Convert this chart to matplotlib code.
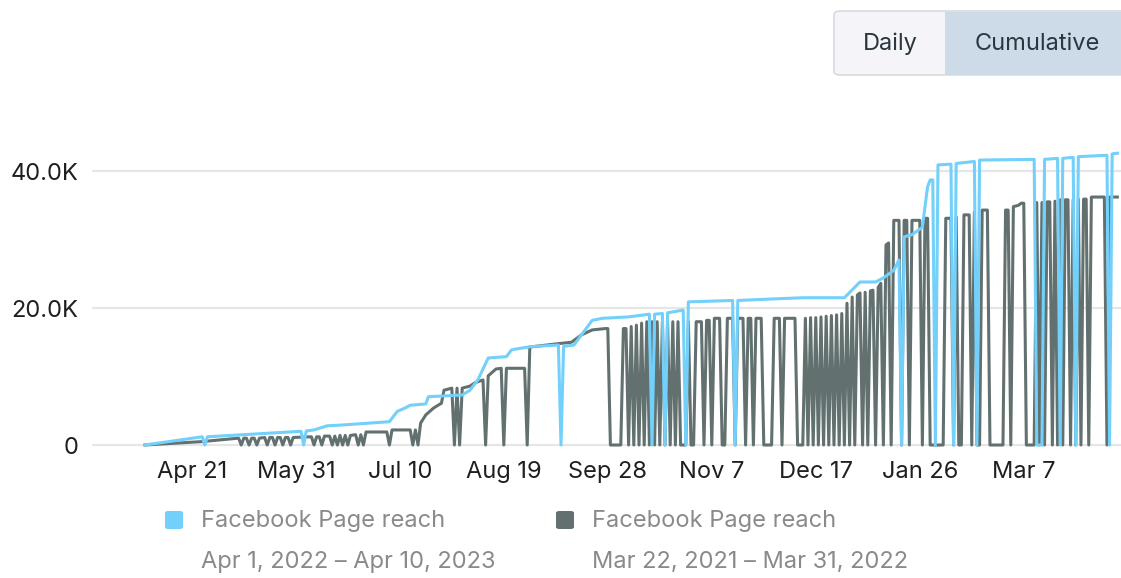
import matplotlib
matplotlib.use("Agg")
import matplotlib.pyplot as plt
from matplotlib.patches import FancyBboxPatch, Rectangle
from matplotlib.ticker import FuncFormatter
from matplotlib.transforms import ScaledTranslation

# day 0 = Apr 1, 2022 (blue) / Mar 22, 2021 (gray); reach values in thousands
blue_pts = [
    (0, 0), (22, 1.2), (23, 0), (24, 1.2), (60, 2.0), (61, 0), (62, 2.05), (65, 2.2),
    (70, 2.8), (75, 2.9), (94, 3.4), (97, 4.9), (100, 5.4), (102, 5.8), (108, 6.0),
    (109, 7.05), (122, 7.3), (125, 8.0), (128, 9.5), (132, 12.7), (139, 12.9),
    (141, 13.9), (148, 14.35), (159, 14.6), (160, 0), (161, 14.4), (165, 14.6),
    (172, 18.2), (176, 18.5), (186, 18.7), (194, 19.1), (195, 0), (196, 19.1),
    (199, 19.2), (200, 0), (201, 19.3), (207, 19.7), (208, 0), (209, 20.9),
    (226, 21.1), (227, 0), (228, 21.1), (240, 21.3), (253, 21.5), (269, 21.5),
    (275, 23.8), (281, 23.8), (284, 24.4), (288, 25.5), (290, 27.0), (291, 0),
    (292, 30.4), (295, 30.7), (299, 31.8), (301, 37.7), (302, 38.7), (303, 38.7),
    (304, 0), (305, 40.9), (310, 41.0), (311, 0), (312, 41.1), (319, 41.4), (320, 0),
    (321, 41.6), (342, 41.7), (343, 0), (345, 0), (346, 41.7), (351, 41.85), (352, 0),
    (353, 41.85), (357, 42.0), (358, 0), (359, 42.1), (370, 42.3), (371, 0),
    (372, 42.5), (374, 42.6),
]

gray_pts = [
    (0, 0), (22, 0.5), (36, 1.0), (37, 0), (38, 1.0), (39, 1.0), (40, 0), (41, 1.0),
    (42, 1.0), (43, 0), (44, 1.0), (46, 1.1), (47, 0), (48, 1.1), (49, 1.1), (50, 0),
    (51, 1.1), (52, 1.1), (53, 0), (54, 1.1), (55, 1.1), (56, 0), (57, 1.1), (64, 1.2),
    (65, 0), (66, 1.2), (67, 1.2), (68, 0), (69, 1.3), (71, 1.3), (72, 0), (73, 1.3),
    (74, 0), (75, 1.4), (76, 0), (77, 1.4), (78, 0), (79, 1.4), (81, 1.5), (82, 0),
    (83, 1.5), (84, 0), (85, 1.9), (93, 1.9), (94, 0), (95, 2.2), (102, 2.2), (103, 0),
    (104, 2.2), (105, 0), (106, 3.2), (108, 4.4), (111, 5.4), (114, 6.1), (115, 8.0),
    (118, 8.3), (119, 0), (120, 8.3), (121, 0), (122, 8.3), (125, 8.6), (127, 9.1),
    (130, 9.5), (131, 0), (132, 10.1), (135, 11.1), (137, 11.2), (138, 0), (139, 11.2),
    (146, 11.2), (147, 0), (148, 14.3), (159, 14.8), (164, 15.0), (168, 16.1),
    (172, 16.8), (177, 17.0), (178, 17.0), (179, 0), (183, 0), (184, 17.0), (185, 17.0),
    (186, 0), (187, 17.3), (188, 0), (189, 17.5), (190, 0), (191, 17.8), (192, 0),
    (193, 18.0), (194, 0), (195, 18.0), (196, 0), (197, 18.0), (198, 0), (199, 18.0),
    (200, 0), (201, 18.0), (202, 0), (203, 18.0), (204, 0), (205, 18.0), (206, 0),
    (208, 0), (209, 18.0), (210, 0), (211, 0), (212, 18.0), (214, 18.0), (215, 0),
    (216, 18.2), (217, 18.2), (218, 0), (219, 18.5), (221, 18.5), (222, 0), (223, 0),
    (224, 18.5), (226, 18.5), (227, 0), (228, 18.5), (230, 18.5), (231, 0), (232, 18.5),
    (233, 18.5), (234, 0), (235, 18.5), (237, 18.5), (238, 0), (241, 0), (242, 18.5),
    (244, 18.5), (245, 0), (246, 18.5), (250, 18.5), (251, 0), (253, 0), (254, 18.5),
    (255, 0), (256, 18.6), (257, 0), (258, 18.6), (259, 0), (260, 18.7), (261, 0),
    (262, 18.8), (263, 0), (264, 18.9), (265, 0), (266, 19.0), (267, 0), (268, 19.2),
    (269, 0), (270, 20.7), (271, 0), (272, 21.6), (273, 0), (274, 21.9), (275, 22.2),
    (276, 0), (277, 22.3), (278, 0), (279, 22.5), (280, 22.6), (281, 0), (282, 23.0),
    (283, 23.6), (284, 0), (285, 29.2), (286, 29.5), (287, 0), (288, 32.8), (290, 32.8),
    (291, 0), (292, 32.8), (293, 32.8), (294, 0), (295, 32.8), (298, 32.8), (299, 0),
    (300, 33.1), (301, 33.1), (302, 0), (307, 0), (308, 33.1), (310, 33.1), (311, 0),
    (312, 33.3), (313, 0), (314, 0), (315, 33.6), (317, 33.6), (318, 0), (319, 34.0),
    (320, 0), (321, 0), (322, 34.3), (324, 34.3), (325, 0), (330, 0), (331, 34.3),
    (332, 34.3), (333, 0), (334, 34.8), (336, 35.0), (337, 35.3), (338, 35.3), (339, 0),
    (342, 0), (343, 35.4), (344, 0), (345, 35.4), (346, 0), (347, 35.5), (348, 35.5),
    (349, 0), (350, 35.6), (351, 0), (352, 35.8), (353, 0), (354, 35.8), (355, 35.8),
    (356, 0), (357, 35.8), (358, 0), (359, 35.9), (360, 0), (361, 35.9), (362, 35.9),
    (363, 0), (364, 36.2), (369, 36.2), (370, 0), (371, 36.2), (374, 36.2),
]

tick_days = [20, 60, 100, 140, 180, 220, 260, 300, 340]
tick_labels = ['Apr 21', 'May 31', 'Jul 10', 'Aug 19', 'Sep 28', 'Nov 7', 'Dec 17', 'Jan 26', 'Mar 7']
y_ticks = [0, 20000, 40000]

series_name = 'Facebook Page reach'
blue_range = 'Apr 1, 2022 \u2013 Apr 10, 2023'
gray_range = 'Mar 22, 2021 \u2013 Mar 31, 2022'

BLUE = '#72d0fa'
GRAY = '#627170'
FS = 17

plt.rcParams['font.family'] = ['Inter', 'DejaVu Sans']

W, H = 1121, 578
fig = plt.figure(figsize=(W / 100, H / 100), dpi=100)


def fx(x):
    return x / W


def fy(y):
    return 1 - y / H


# plot area: px 92..1121 horizontally, 140..450 vertically
ax = fig.add_axes([fx(92), fy(450), fx(1121) - fx(92), fy(140) - fy(450)])

bd, bv = zip(*blue_pts)
gd, gv = zip(*gray_pts)
ax.plot(gd, [v * 1000 for v in gv], color=GRAY, lw=2.2, zorder=3)
ax.plot(bd, [v * 1000 for v in bv], color=BLUE, lw=2.2, zorder=4)

ax.set_xlim(-20.4, 375.4)
ax.set_ylim(-730, 44530)
ax.set_yticks(y_ticks)
ax.yaxis.set_major_formatter(FuncFormatter(lambda v, p: '0' if v == 0 else f'{v / 1000:.1f}K'))
ax.set_xticks(tick_days)
ax.set_xticklabels(tick_labels)
ax.tick_params(length=0, labelsize=FS, labelcolor='#1f1f1f')
ax.tick_params(axis='y', pad=10)
ax.tick_params(axis='x', pad=8)
shift = ScaledTranslation(-5 / 100, 0, fig.dpi_scale_trans)
for lab in ax.get_xticklabels():
    lab.set_transform(lab.get_transform() + shift)
ax.grid(axis='y', color='#e6e6e6', lw=1.6)
ax.set_axisbelow(True)
for s in ax.spines.values():
    s.set_visible(False)

# Daily / Cumulative toggle
fig.patches.append(FancyBboxPatch((fx(834), fy(75)), fx(1130) - fx(834), fy(11) - fy(75),
                                  boxstyle='round,pad=0,rounding_size=0.006',
                                  transform=fig.transFigure, facecolor='#f5f5f9',
                                  edgecolor='#dadade', lw=1.2))
fig.patches.append(Rectangle((fx(945), fy(74.5)), fx(1121) - fx(945), fy(11.5) - fy(74.5),
                             transform=fig.transFigure, facecolor='#cddbe8', edgecolor='none'))
fig.text(fx(890), fy(44), 'Daily', ha='center', va='center', fontsize=FS, color='#2b3640')
fig.text(fx(1037), fy(44), 'Cumulative', ha='center', va='center', fontsize=FS, color='#2b3640')

# legend
for x0, col, rng in [(165, BLUE, blue_range), (556, GRAY, gray_range)]:
    fig.patches.append(FancyBboxPatch((fx(x0), fy(529)), fx(18), fy(0) - fy(18),
                                      boxstyle='round,pad=0,rounding_size=0.003',
                                      transform=fig.transFigure, facecolor=col, edgecolor='none'))
    fig.text(fx(x0 + 36), fy(521), series_name, ha='left', va='center', fontsize=FS, color='#8a8a8a')
    fig.text(fx(x0 + 36), fy(562), rng, ha='left', va='center', fontsize=FS, color='#8a8a8a')

fig.savefig('out.png', dpi=100)
